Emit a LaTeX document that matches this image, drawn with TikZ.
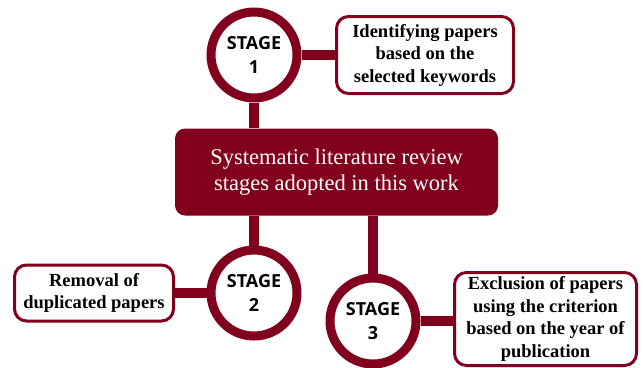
\documentclass[tikz,border=0pt]{standalone}
\usepackage{fontspec}
\setmainfont{Liberation Serif}
\newfontfamily\stagefont{Open Sans}
\usetikzlibrary{backgrounds}
\definecolor{wine}{RGB}{128,0,30}
\tikzset{
  stage/.style={circle,draw=wine,line width=9pt,fill=white,minimum size=86pt,
    inner sep=0pt,align=center,font=\stagefont\bfseries\fontsize{18}{24}\selectfont},
  note/.style={rectangle,rounded corners=12pt,draw=wine,line width=3pt,fill=white,
    inner sep=0pt,align=center,font=\bfseries\fontsize{18.5}{22.5}\selectfont},
  hub/.style={rectangle,rounded corners=10pt,fill=wine,text=white,inner sep=0pt,
    align=center,font=\fontsize{22.5}{26}\selectfont},
  link/.style={draw=wine,line width=10pt}
}
\begin{document}
\begin{tikzpicture}[x=1pt,y=-1pt]
      \useasboundingbox (0,0) rectangle (644,367);
      \node[hub,minimum width=323pt,minimum height=87pt] (c) at (336.5,172)
        {Systematic literature review\\stages adopted in this work};
      \node[stage] (s1) at (254,55) {STAGE\\1};
      \node[stage] (s2) at (254,293) {STAGE\\2};
      \node[stage] (s3) at (373,321) {STAGE\\3};
      \node[note,minimum width=177pt,minimum height=77pt] (b1) at (425,55)
        {Identifying papers\\based on the\\selected keywords};
      \node[note,minimum width=159pt,minimum height=56pt] (b2) at (94,293)
        {Removal of\\duplicated papers};
      \node[note,minimum width=182pt,minimum height=93pt] (b3) at (545.5,319)
        {Exclusion of papers\\using the criterion\\based on the year of\\publication};
      \begin{scope}[on background layer]
        \draw[link] (s1.south) -- (s1.south |- c.north);
        \draw[link] (s2.north) -- (s2.north |- c.south);
        \draw[link] (s3.north) -- (s3.north |- c.south);
        \draw[link] (s1.east) -- (b1.west);
        \draw[link] (s2.west) -- (b2.east);
        \draw[link] (s3.east) -- (s3.east -| b3.west);
      \end{scope}
    \end{tikzpicture}
\end{document}
